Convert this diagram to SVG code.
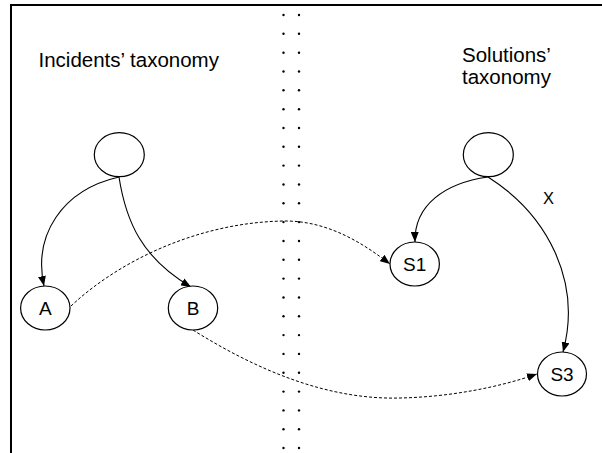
<svg xmlns="http://www.w3.org/2000/svg" width="602" height="453" viewBox="0 0 602 453">
<style>
text{font-family:"Liberation Sans",Arial,sans-serif;fill:#000}
.t{font-size:20.5px}
.n{font-size:19px;text-anchor:middle}
.node ellipse{fill:#fff;stroke:#000;stroke-width:1.2}
.e{fill:none;stroke:#000;stroke-width:1.1}
.d{fill:none;stroke:#000;stroke-width:1;stroke-dasharray:3,2}
.dot{fill:#000}
</style>
<defs>
<marker id="ah" viewBox="0 0 10 8" refX="10" refY="4" markerWidth="10" markerHeight="8" markerUnits="userSpaceOnUse" orient="auto">
<path d="M0,0 L10,4 L0,8 Z" fill="#000"/>
</marker>
</defs>
<rect width="602" height="453" fill="#fff"/>
<g id="frame" fill="none" stroke="#000" stroke-width="2">
<path d="M11,453 L11,5 L602,5"/>
</g>
<g id="separator" class="dot">
<circle cx="283.5" cy="15" r="1.2"/><circle cx="299" cy="15" r="1.2"/>
<circle cx="283.5" cy="33.8" r="1.2"/><circle cx="299" cy="33.8" r="1.2"/>
<circle cx="283.5" cy="52.7" r="1.2"/><circle cx="299" cy="52.7" r="1.2"/>
<circle cx="283.5" cy="71.5" r="1.2"/><circle cx="299" cy="71.5" r="1.2"/>
<circle cx="283.5" cy="90.3" r="1.2"/><circle cx="299" cy="90.3" r="1.2"/>
<circle cx="283.5" cy="109.2" r="1.2"/><circle cx="299" cy="109.2" r="1.2"/>
<circle cx="283.5" cy="128" r="1.2"/><circle cx="299" cy="128" r="1.2"/>
<circle cx="283.5" cy="146.8" r="1.2"/><circle cx="299" cy="146.8" r="1.2"/>
<circle cx="283.5" cy="165.6" r="1.2"/><circle cx="299" cy="165.6" r="1.2"/>
<circle cx="283.5" cy="184.5" r="1.2"/><circle cx="299" cy="184.5" r="1.2"/>
<circle cx="283.5" cy="203.3" r="1.2"/><circle cx="299" cy="203.3" r="1.2"/>
<circle cx="283.5" cy="222.1" r="1.2"/><circle cx="299" cy="222.1" r="1.2"/>
<circle cx="283.5" cy="241" r="1.2"/><circle cx="299" cy="241" r="1.2"/>
<circle cx="283.5" cy="259.8" r="1.2"/><circle cx="299" cy="259.8" r="1.2"/>
<circle cx="283.5" cy="278.6" r="1.2"/><circle cx="299" cy="278.6" r="1.2"/>
<circle cx="283.5" cy="297.5" r="1.2"/><circle cx="299" cy="297.5" r="1.2"/>
<circle cx="283.5" cy="316.3" r="1.2"/><circle cx="299" cy="316.3" r="1.2"/>
<circle cx="283.5" cy="335.1" r="1.2"/><circle cx="299" cy="335.1" r="1.2"/>
<circle cx="283.5" cy="353.9" r="1.2"/><circle cx="299" cy="353.9" r="1.2"/>
<circle cx="283.5" cy="372.8" r="1.2"/><circle cx="299" cy="372.8" r="1.2"/>
<circle cx="283.5" cy="391.6" r="1.2"/><circle cx="299" cy="391.6" r="1.2"/>
<circle cx="283.5" cy="410.4" r="1.2"/><circle cx="299" cy="410.4" r="1.2"/>
<circle cx="283.5" cy="429.3" r="1.2"/><circle cx="299" cy="429.3" r="1.2"/>
<circle cx="283.5" cy="448" r="1.2"/><circle cx="299" cy="448" r="1.2"/>
</g>
<g id="titles">
<text class="t" x="38.5" y="67">Incidents’ taxonomy</text>
<text class="t" x="462" y="62">Solutions’</text>
<text class="t" x="462" y="84">taxonomy</text>
</g>
<g id="connectors">
<path class="e" d="M119,177 C62,190 33,235 44,286" marker-end="url(#ah)"/>
<path class="e" d="M119,177 C126,222 142,258 191,287" marker-end="url(#ah)"/>
<path class="e" d="M488,177 C445,183 414,205 415,242" marker-end="url(#ah)"/>
<path class="e" d="M488,177 C548,215 582,282 563,352" marker-end="url(#ah)"/>
<path class="d" d="M71,306 C120,260 200,222 285,221 C330,221 365,245 390,264" marker-end="url(#ah)"/>
<path class="d" d="M193,330 C260,372 330,400 400,398 C450,397 500,387 537,374" marker-end="url(#ah)"/>
<text x="543" y="204" style="font-size:16.5px">X</text>
</g>
<g id="root-incidents" class="node"><ellipse cx="119.3" cy="154.7" rx="25" ry="22"/></g>
<g id="root-solutions" class="node"><ellipse cx="488.3" cy="154.7" rx="25" ry="22"/></g>
<g id="node-A" class="node"><ellipse cx="45.3" cy="308" rx="24.7" ry="22"/><text class="n" x="45.3" y="314.8">A</text></g>
<g id="node-B" class="node"><ellipse cx="193" cy="308" rx="24.7" ry="22"/><text class="n" x="193" y="314.8">B</text></g>
<g id="node-S1" class="node"><ellipse cx="414.7" cy="264" rx="24.7" ry="22"/><text class="n" x="414.7" y="270.8">S1</text></g>
<g id="node-S3" class="node"><ellipse cx="562" cy="374" rx="24.5" ry="22"/><text class="n" x="562" y="380.8">S3</text></g>
</svg>
